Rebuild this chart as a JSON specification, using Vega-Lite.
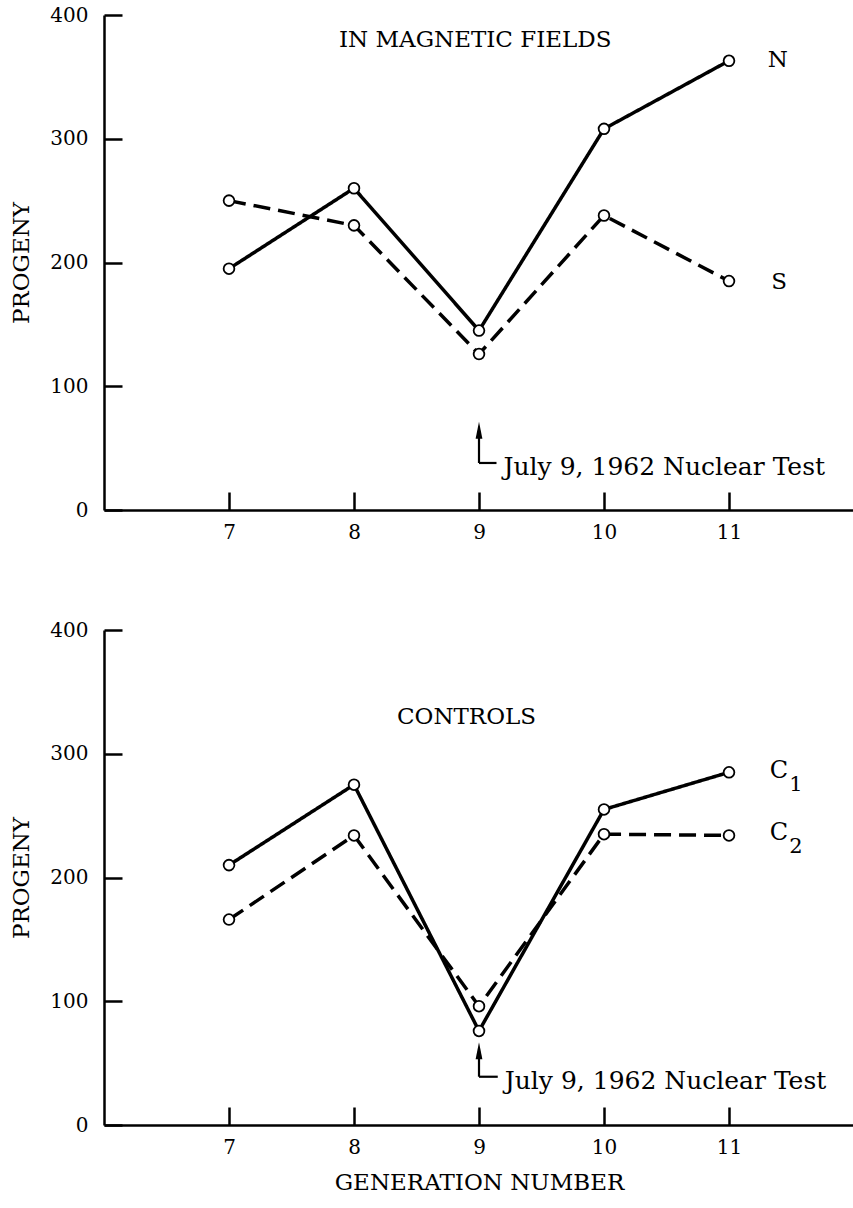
{
  "$schema": "https://vega.github.io/schema/vega-lite/v6.json",
  "autosize": {"type": "pad"},
  "padding": {"left": 10, "top": 5, "right": 0, "bottom": 5},
  "background": "white",
  "spacing": 120,
  "bounds": "flush",
  "config": {
    "view": {"stroke": null},
    "font": "DejaVu Serif",
    "axis": {
      "grid": false,
      "domainColor": "black",
      "domainWidth": 2.5,
      "tickColor": "black",
      "tickWidth": 2.5,
      "tickSize": -18,
      "labelColor": "black",
      "labelFont": "DejaVu Serif",
      "labelFontSize": 20,
      "titleFont": "DejaVu Serif",
      "titleFontSize": 23,
      "titleFontWeight": "normal",
      "titleColor": "black"
    }
  },
  "datasets": {
    "series": [
      {"panel": "top", "series": "N", "generation": 7, "progeny": 195},
      {"panel": "top", "series": "N", "generation": 8, "progeny": 260},
      {"panel": "top", "series": "N", "generation": 9, "progeny": 145},
      {"panel": "top", "series": "N", "generation": 10, "progeny": 308},
      {"panel": "top", "series": "N", "generation": 11, "progeny": 363},
      {"panel": "top", "series": "S", "generation": 7, "progeny": 250},
      {"panel": "top", "series": "S", "generation": 8, "progeny": 230},
      {"panel": "top", "series": "S", "generation": 9, "progeny": 126},
      {"panel": "top", "series": "S", "generation": 10, "progeny": 238},
      {"panel": "top", "series": "S", "generation": 11, "progeny": 185},
      {"panel": "bottom", "series": "C1", "generation": 7, "progeny": 210},
      {"panel": "bottom", "series": "C1", "generation": 8, "progeny": 275},
      {"panel": "bottom", "series": "C1", "generation": 9, "progeny": 76},
      {"panel": "bottom", "series": "C1", "generation": 10, "progeny": 255},
      {"panel": "bottom", "series": "C1", "generation": 11, "progeny": 285},
      {"panel": "bottom", "series": "C2", "generation": 7, "progeny": 166},
      {"panel": "bottom", "series": "C2", "generation": 8, "progeny": 234},
      {"panel": "bottom", "series": "C2", "generation": 9, "progeny": 96},
      {"panel": "bottom", "series": "C2", "generation": 10, "progeny": 235},
      {"panel": "bottom", "series": "C2", "generation": 11, "progeny": 234}
    ],
    "labels": [
      {"panel": "top", "generation": 11.39, "progeny": 364, "label": "N", "sub": ""},
      {"panel": "top", "generation": 11.4, "progeny": 184, "label": "S", "sub": ""},
      {"panel": "bottom", "generation": 11.4, "progeny": 286, "label": "C", "sub": "1"},
      {"panel": "bottom", "generation": 11.4, "progeny": 236, "label": "C", "sub": "2"}
    ],
    "titles": [
      {"panel": "top", "generation": 8.97, "progeny": 380, "label": "IN MAGNETIC FIELDS"},
      {"panel": "bottom", "generation": 8.9, "progeny": 330, "label": "CONTROLS"}
    ],
    "arrows": [
      {"panel": "top", "generation": 9, "progeny": 38, "gen_end": 9.14, "head": 64.5, "label": "July 9, 1962 Nuclear Test"},
      {"panel": "bottom", "generation": 9, "progeny": 39, "gen_end": 9.15, "head": 60, "label": "July 9, 1962 Nuclear Test"}
    ]
  },
  "vconcat": [
    {
      "width": 750,
      "height": 495,
      "encoding": {
        "x": {"field": "generation", "type": "quantitative", "scale": {"domain": [6, 12], "nice": false, "zero": false},
              "axis": {"values": [7, 8, 9, 10, 11, 12], "labelExpr": "datum.value == 12 ? '' : datum.label", "title": null, "labelPadding": 30}},
        "y": {"field": "progeny", "type": "quantitative", "scale": {"domain": [0, 400], "nice": false},
              "axis": {"values": [0, 100, 200, 300, 400], "title": "PROGENY", "labelPadding": 34, "titlePadding": 16}}
      },
      "layer": [
        {
          "data": {"name": "series"},
          "transform": [{"filter": "datum.panel == 'top'"}],
          "mark": {"type": "line", "color": "black", "strokeWidth": 3.5},
          "encoding": {
            "detail": {"field": "series"},
            "strokeDash": {"field": "series", "type": "nominal", "scale": {"domain": ["N", "S"], "range": [[1, 0], [17, 8]]}, "legend": null}
          }
        },
        {
          "data": {"name": "series"},
          "transform": [{"filter": "datum.panel == 'top'"}],
          "mark": {"type": "point", "shape": "circle", "filled": true, "fill": "white", "stroke": "black", "strokeWidth": 1.8, "size": 115, "opacity": 1}
        },
        {
          "data": {"name": "labels"},
          "transform": [{"filter": "datum.panel == 'top'"}],
          "mark": {"type": "text", "fontSize": 23, "color": "black", "align": "center", "baseline": "middle"},
          "encoding": {"text": {"field": "label"}}
        },
        {
          "data": {"name": "titles"},
          "transform": [{"filter": "datum.panel == 'top'"}],
          "mark": {"type": "text", "fontSize": 23, "color": "black", "align": "center", "baseline": "middle"},
          "encoding": {"text": {"field": "label"}}
        },
        {
          "data": {"name": "arrows"},
          "transform": [{"filter": "datum.panel == 'top'"}],
          "mark": {"type": "rule", "color": "black", "strokeWidth": 2.2},
          "encoding": {"y2": {"field": "head"}}
        },
        {
          "data": {"name": "arrows"},
          "transform": [{"filter": "datum.panel == 'top'"}],
          "mark": {"type": "rule", "color": "black", "strokeWidth": 2.2},
          "encoding": {"x2": {"field": "gen_end"}}
        },
        {
          "data": {"name": "arrows"},
          "transform": [{"filter": "datum.panel == 'top'"}],
          "mark": {"type": "point", "shape": "M 0 -1 L 0.4 1 L -0.4 1 Z", "filled": true, "color": "black", "size": 290, "opacity": 1},
          "encoding": {"y": {"field": "head", "type": "quantitative"}}
        },
        {
          "data": {"name": "arrows"},
          "transform": [{"filter": "datum.panel == 'top'"}],
          "mark": {"type": "text", "fontSize": 25, "color": "black", "align": "left", "baseline": "middle", "dx": 7, "dy": 4},
          "encoding": {"x": {"field": "gen_end", "type": "quantitative"}, "text": {"field": "label"}}
        }
      ]
    },
    {
      "width": 750,
      "height": 495,
      "encoding": {
        "x": {"field": "generation", "type": "quantitative", "scale": {"domain": [6, 12], "nice": false, "zero": false},
              "axis": {"values": [7, 8, 9, 10, 11, 12], "labelExpr": "datum.value == 12 ? '' : datum.label", "title": "GENERATION NUMBER", "labelPadding": 30, "titlePadding": 14}},
        "y": {"field": "progeny", "type": "quantitative", "scale": {"domain": [0, 400], "nice": false},
              "axis": {"values": [0, 100, 200, 300, 400], "title": "PROGENY", "labelPadding": 34, "titlePadding": 16}}
      },
      "layer": [
        {
          "data": {"name": "series"},
          "transform": [{"filter": "datum.panel == 'bottom'"}],
          "mark": {"type": "line", "color": "black", "strokeWidth": 3.5},
          "encoding": {
            "detail": {"field": "series"},
            "strokeDash": {"field": "series", "type": "nominal", "scale": {"domain": ["C1", "C2"], "range": [[1, 0], [17, 8]]}, "legend": null}
          }
        },
        {
          "data": {"name": "series"},
          "transform": [{"filter": "datum.panel == 'bottom'"}],
          "mark": {"type": "point", "shape": "circle", "filled": true, "fill": "white", "stroke": "black", "strokeWidth": 1.8, "size": 115, "opacity": 1}
        },
        {
          "data": {"name": "labels"},
          "transform": [{"filter": "datum.panel == 'bottom'"}],
          "mark": {"type": "text", "fontSize": 24, "color": "black", "align": "center", "baseline": "middle"},
          "encoding": {"text": {"field": "label"}}
        },
        {
          "data": {"name": "labels"},
          "transform": [{"filter": "datum.panel == 'bottom'"}],
          "mark": {"type": "text", "fontSize": 21, "color": "black", "align": "center", "baseline": "middle", "dx": 17, "dy": 14},
          "encoding": {"text": {"field": "sub"}}
        },
        {
          "data": {"name": "titles"},
          "transform": [{"filter": "datum.panel == 'bottom'"}],
          "mark": {"type": "text", "fontSize": 23, "color": "black", "align": "center", "baseline": "middle"},
          "encoding": {"text": {"field": "label"}}
        },
        {
          "data": {"name": "arrows"},
          "transform": [{"filter": "datum.panel == 'bottom'"}],
          "mark": {"type": "rule", "color": "black", "strokeWidth": 2.2},
          "encoding": {"y2": {"field": "head"}}
        },
        {
          "data": {"name": "arrows"},
          "transform": [{"filter": "datum.panel == 'bottom'"}],
          "mark": {"type": "rule", "color": "black", "strokeWidth": 2.2},
          "encoding": {"x2": {"field": "gen_end"}}
        },
        {
          "data": {"name": "arrows"},
          "transform": [{"filter": "datum.panel == 'bottom'"}],
          "mark": {"type": "point", "shape": "M 0 -1 L 0.4 1 L -0.4 1 Z", "filled": true, "color": "black", "size": 290, "opacity": 1},
          "encoding": {"y": {"field": "head", "type": "quantitative"}}
        },
        {
          "data": {"name": "arrows"},
          "transform": [{"filter": "datum.panel == 'bottom'"}],
          "mark": {"type": "text", "fontSize": 25, "color": "black", "align": "left", "baseline": "middle", "dx": 7, "dy": 4},
          "encoding": {"x": {"field": "gen_end", "type": "quantitative"}, "text": {"field": "label"}}
        }
      ]
    }
  ]
}
